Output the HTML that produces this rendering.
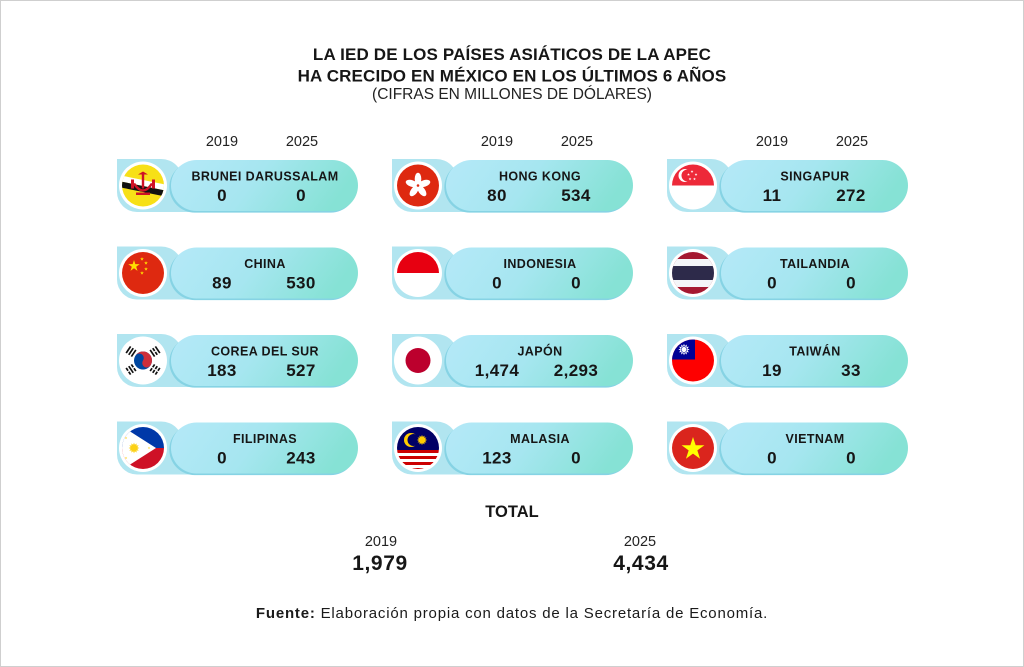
<!DOCTYPE html>
<html><head><meta charset="utf-8"><style>
html,body{margin:0;padding:0;background:#fff;}
body{width:1024px;height:667px;overflow:hidden;}
svg{display:block;}
text{font-family:"Liberation Sans",Arial,sans-serif;fill:#161616;}
.t{font-weight:bold;font-size:17px;letter-spacing:0.15px;text-anchor:middle;}
.st{font-size:15.5px;text-anchor:middle;fill:#222;}
.yr{font-size:14.5px;text-anchor:middle;fill:#222;}
.nm{font-weight:bold;font-size:12.5px;letter-spacing:0.4px;text-anchor:middle;}
.nu{font-weight:bold;font-size:17px;letter-spacing:0.4px;text-anchor:middle;}
.tot{font-weight:bold;font-size:16.5px;text-anchor:middle;}
.tn{font-weight:bold;font-size:21px;letter-spacing:0.6px;text-anchor:middle;}
.src{font-size:15px;letter-spacing:0.8px;text-anchor:middle;fill:#1a1a1a;}
</style></head><body>
<svg width="1024" height="667" viewBox="0 0 1024 667" xmlns="http://www.w3.org/2000/svg">
<defs>
<linearGradient id="pg" x1="0" y1="0" x2="1" y2="0.2">
<stop offset="0" stop-color="#b5e9f8"/><stop offset="0.5" stop-color="#a6e6f0"/><stop offset="1" stop-color="#86e2d5"/>
</linearGradient>
<clipPath id="fc"><circle cx="0" cy="0" r="21"/></clipPath>
<path id="star" d="M0,-1 L0.2245,-0.309 L0.951,-0.309 L0.363,0.118 L0.588,0.809 L0,0.382 L-0.588,0.809 L-0.363,0.118 L-0.951,-0.309 L-0.2245,-0.309 Z"/>
<polygon id="sun" points="6,0 3.67,0.98 5.2,3 2.69,2.69 3,5.2 0.98,3.67 0,6 -0.98,3.67 -3,5.2 -2.69,2.69 -5.2,3 -3.67,0.98 -6,0 -3.67,-0.98 -5.2,-3 -2.69,-2.69 -3,-5.2 -0.98,-3.67 0,-6 0.98,-3.67 3,-5.2 2.69,-2.69 5.2,-3 3.67,-0.98"/>
<g id="card">
<path d="M0,0 H44 A22,22 0 0 1 66,22 V53 H20 A20,20 0 0 1 0,33 Z" fill="#b1e5f0"/>
<rect x="20" y="30" width="90" height="23" fill="#b1e5f0"/>
<rect x="52.3" y="2.6" width="187" height="51" rx="25.5" fill="#86d3e4"/>
<rect x="54" y="1" width="187" height="51" rx="25.5" fill="url(#pg)"/>
<circle cx="26" cy="26.5" r="24" fill="#fff"/>
</g>
</defs>

<rect x="0.5" y="0.5" width="1023" height="666" fill="#fff" stroke="#cfcfcf" stroke-width="1"/>

<text class="t" x="512" y="60">LA IED DE LOS PAÍSES ASIÁTICOS DE LA APEC</text>
<text class="t" x="512" y="81.5">HA CRECIDO EN MÉXICO EN LOS ÚLTIMOS 6 AÑOS</text>
<text class="st" x="512" y="99">(CIFRAS EN MILLONES DE DÓLARES)</text>

<text class="yr" x="222" y="146">2019</text><text class="yr" x="302" y="146">2025</text>
<text class="yr" x="497" y="146">2019</text><text class="yr" x="577" y="146">2025</text>
<text class="yr" x="772" y="146">2019</text><text class="yr" x="852" y="146">2025</text>

<g transform="translate(117,159)">
<use href="#card"/>
<g transform="translate(26,26.5)"><g clip-path="url(#fc)">
<rect x="-22" y="-22" width="44" height="44" fill="#f7e017"/>
<polygon points="-22,-10 22,-1 22,5 -22,-4" fill="#fff"/>
<polygon points="-22,-4 22,5 22,11 -22,2" fill="#111"/>
<rect x="-1.2" y="-12" width="2.4" height="15" fill="#ce1126"/>
<path d="M-5,-11 L5,-11 L0,-14 Z" fill="#ce1126"/>
<path d="M-9,-2 Q0,12 9,-2" stroke="#ce1126" stroke-width="2.5" fill="none"/>
<rect x="-12" y="-6" width="3" height="9" fill="#ce1126"/>
<rect x="9" y="-6" width="3" height="9" fill="#ce1126"/>
<rect x="-7" y="7" width="14" height="2.5" fill="#ce1126"/>
</g></g>
<text class="nm" x="148" y="21.5">BRUNEI DARUSSALAM</text>
<text class="nu" x="105" y="42">0</text><text class="nu" x="184" y="42">0</text>
</g>

<g transform="translate(392,159)">
<use href="#card"/>
<g transform="translate(26,26.5)"><g clip-path="url(#fc)">
<rect x="-22" y="-22" width="44" height="44" fill="#de2910"/>
<g fill="#fff">
<ellipse cx="0" cy="-6.5" rx="3.3" ry="6.3"/>
<ellipse cx="0" cy="-6.5" rx="3.3" ry="6.3" transform="rotate(72)"/>
<ellipse cx="0" cy="-6.5" rx="3.3" ry="6.3" transform="rotate(144)"/>
<ellipse cx="0" cy="-6.5" rx="3.3" ry="6.3" transform="rotate(216)"/>
<ellipse cx="0" cy="-6.5" rx="3.3" ry="6.3" transform="rotate(288)"/>
</g>
<circle cx="0" cy="0" r="1.3" fill="#de2910"/>
</g></g>
<text class="nm" x="148" y="21.5">HONG KONG</text>
<text class="nu" x="105" y="42">80</text><text class="nu" x="184" y="42">534</text>
</g>

<g transform="translate(667,159)">
<use href="#card"/>
<g transform="translate(26,26.5)"><g clip-path="url(#fc)">
<rect x="-22" y="-22" width="44" height="22" fill="#ed2939"/>
<rect x="-22" y="0" width="44" height="22" fill="#fff"/>
<circle cx="-8" cy="-10" r="6.5" fill="#fff"/>
<circle cx="-5.5" cy="-10" r="6" fill="#ed2939"/>
<g fill="#fff">
<use href="#star" transform="translate(-1,-14) scale(1.5)"/>
<use href="#star" transform="translate(3,-11) scale(1.5)"/>
<use href="#star" transform="translate(-4.5,-11) scale(1.5)"/>
<use href="#star" transform="translate(-3,-6.5) scale(1.5)"/>
<use href="#star" transform="translate(1.5,-6.5) scale(1.5)"/>
</g>
</g></g>
<text class="nm" x="148" y="21.5">SINGAPUR</text>
<text class="nu" x="105" y="42">11</text><text class="nu" x="184" y="42">272</text>
</g>

<g transform="translate(117,246.5)">
<use href="#card"/>
<g transform="translate(26,26.5)"><g clip-path="url(#fc)">
<rect x="-22" y="-22" width="44" height="44" fill="#de2910"/>
<g fill="#ffde00">
<use href="#star" transform="translate(-9,-7) scale(6)"/>
<use href="#star" transform="translate(-1,-14) scale(2)"/>
<use href="#star" transform="translate(3,-10) scale(2)"/>
<use href="#star" transform="translate(3,-4) scale(2)"/>
<use href="#star" transform="translate(-1,0) scale(2)"/>
</g>
</g></g>
<text class="nm" x="148" y="21.5">CHINA</text>
<text class="nu" x="105" y="42">89</text><text class="nu" x="184" y="42">530</text>
</g>

<g transform="translate(392,246.5)">
<use href="#card"/>
<g transform="translate(26,26.5)"><g clip-path="url(#fc)">
<rect x="-22" y="-22" width="44" height="22" fill="#e70011"/>
<rect x="-22" y="0" width="44" height="22" fill="#fff"/>
</g></g>
<text class="nm" x="148" y="21.5">INDONESIA</text>
<text class="nu" x="105" y="42">0</text><text class="nu" x="184" y="42">0</text>
</g>

<g transform="translate(667,246.5)">
<use href="#card"/>
<g transform="translate(26,26.5)"><g clip-path="url(#fc)">
<rect x="-22" y="-22" width="44" height="44" fill="#a51931"/>
<rect x="-22" y="-14" width="44" height="28" fill="#f4f5f8"/>
<rect x="-22" y="-7" width="44" height="14" fill="#2d2a4a"/>
</g></g>
<text class="nm" x="148" y="21.5">TAILANDIA</text>
<text class="nu" x="105" y="42">0</text><text class="nu" x="184" y="42">0</text>
</g>

<g transform="translate(117,334)">
<use href="#card"/>
<g transform="translate(26,26.5)"><g clip-path="url(#fc)">
<rect x="-22" y="-22" width="44" height="44" fill="#fff"/>
<g transform="rotate(34)">
<circle cx="0" cy="0" r="9" fill="#0047a0"/>
<path d="M-9,0 A9,9 0 0 1 9,0 A4.5,4.5 0 0 1 0,0 A4.5,4.5 0 0 0 -9,0 Z" fill="#cd2e3a"/>
</g>
<g fill="#111">
<g transform="translate(-12,-9) rotate(-56)"><rect x="-4" y="-4" width="8" height="1.7"/><rect x="-4" y="-0.85" width="8" height="1.7"/><rect x="-4" y="2.3" width="8" height="1.7"/></g>
<g transform="translate(12,-9) rotate(56)"><rect x="-4" y="-4" width="8" height="1.7"/><rect x="-4" y="-0.85" width="3.4" height="1.7"/><rect x="0.6" y="-0.85" width="3.4" height="1.7"/><rect x="-4" y="2.3" width="8" height="1.7"/></g>
<g transform="translate(-12,9) rotate(56)"><rect x="-4" y="-4" width="3.4" height="1.7"/><rect x="0.6" y="-4" width="3.4" height="1.7"/><rect x="-4" y="-0.85" width="8" height="1.7"/><rect x="-4" y="2.3" width="3.4" height="1.7"/><rect x="0.6" y="2.3" width="3.4" height="1.7"/></g>
<g transform="translate(12,9) rotate(-56)"><rect x="-4" y="-4" width="3.4" height="1.7"/><rect x="0.6" y="-4" width="3.4" height="1.7"/><rect x="-4" y="-0.85" width="3.4" height="1.7"/><rect x="0.6" y="-0.85" width="3.4" height="1.7"/><rect x="-4" y="2.3" width="3.4" height="1.7"/><rect x="0.6" y="2.3" width="3.4" height="1.7"/></g>
</g>
</g></g>
<text class="nm" x="148" y="21.5">COREA DEL SUR</text>
<text class="nu" x="105" y="42">183</text><text class="nu" x="184" y="42">527</text>
</g>

<g transform="translate(392,334)">
<use href="#card"/>
<g transform="translate(26,26.5)"><g clip-path="url(#fc)">
<rect x="-22" y="-22" width="44" height="44" fill="#fff"/>
<circle cx="0" cy="0" r="12.5" fill="#bc002d"/>
</g></g>
<text class="nm" x="148" y="21.5">JAPÓN</text>
<text class="nu" x="105" y="42">1,474</text><text class="nu" x="184" y="42">2,293</text>
</g>

<g transform="translate(667,334)">
<use href="#card"/>
<g transform="translate(26,26.5)"><g clip-path="url(#fc)">
<rect x="-22" y="-22" width="44" height="44" fill="#fe0000"/>
<rect x="-22" y="-22" width="24" height="21" fill="#000095"/>
<use href="#sun" transform="translate(-9,-11) scale(0.95)" fill="#fff"/>
<circle cx="-9" cy="-11" r="3.2" fill="#000095"/>
<circle cx="-9" cy="-11" r="2.6" fill="#fff"/>
</g></g>
<text class="nm" x="148" y="21.5">TAIWÁN</text>
<text class="nu" x="105" y="42">19</text><text class="nu" x="184" y="42">33</text>
</g>

<g transform="translate(117,421.5)">
<use href="#card"/>
<g transform="translate(26,26.5)"><g clip-path="url(#fc)">
<rect x="-22" y="-22" width="44" height="22" fill="#0038a8"/>
<rect x="-22" y="0" width="44" height="22" fill="#ce1126"/>
<polygon points="-34,-30 -34,30 13,0" fill="#fff"/>
<use href="#sun" transform="translate(-9,0) scale(0.9)" fill="#fcd116"/>
<circle cx="-9" cy="0" r="2.8" fill="#fcd116"/>
<g fill="#fcd116">
<use href="#star" transform="translate(-17,-10) scale(1.3)"/>
<use href="#star" transform="translate(-17,10) scale(1.3)"/>
<use href="#star" transform="translate(6,0) scale(1.3)"/>
</g>
</g></g>
<text class="nm" x="148" y="21.5">FILIPINAS</text>
<text class="nu" x="105" y="42">0</text><text class="nu" x="184" y="42">243</text>
</g>

<g transform="translate(392,421.5)">
<use href="#card"/>
<g transform="translate(26,26.5)"><g clip-path="url(#fc)">
<rect x="-22" y="-22" width="44" height="44" fill="#fff"/>
<rect x="-22" y="2" width="44" height="3" fill="#cc0001"/>
<rect x="-22" y="8" width="44" height="3" fill="#cc0001"/>
<rect x="-22" y="14" width="44" height="3" fill="#cc0001"/>
<rect x="-22" y="20" width="44" height="3" fill="#cc0001"/>
<rect x="-22" y="-22" width="44" height="24" fill="#010066"/>
<circle cx="-7" cy="-8" r="7" fill="#ffcc00"/>
<circle cx="-4.5" cy="-8" r="6" fill="#010066"/>
<use href="#sun" transform="translate(4,-8) scale(0.85)" fill="#ffcc00"/>
<circle cx="4" cy="-8" r="2.6" fill="#ffcc00"/>
</g></g>
<text class="nm" x="148" y="21.5">MALASIA</text>
<text class="nu" x="105" y="42">123</text><text class="nu" x="184" y="42">0</text>
</g>

<g transform="translate(667,421.5)">
<use href="#card"/>
<g transform="translate(26,26.5)"><g clip-path="url(#fc)">
<rect x="-22" y="-22" width="44" height="44" fill="#da251d"/>
<use href="#star" transform="translate(0,1) scale(12)" fill="#ffff00"/>
</g></g>
<text class="nm" x="148" y="21.5">VIETNAM</text>
<text class="nu" x="105" y="42">0</text><text class="nu" x="184" y="42">0</text>
</g>

<text class="tot" x="512" y="517">TOTAL</text>
<text class="yr" x="381" y="546">2019</text>
<text class="tn" x="380" y="570">1,979</text>
<text class="yr" x="640" y="546">2025</text>
<text class="tn" x="641" y="570">4,434</text>

<text class="src" x="512" y="618"><tspan font-weight="bold">Fuente:</tspan> Elaboración propia con datos de la Secretaría de Economía.</text>
</svg>
</body></html>
